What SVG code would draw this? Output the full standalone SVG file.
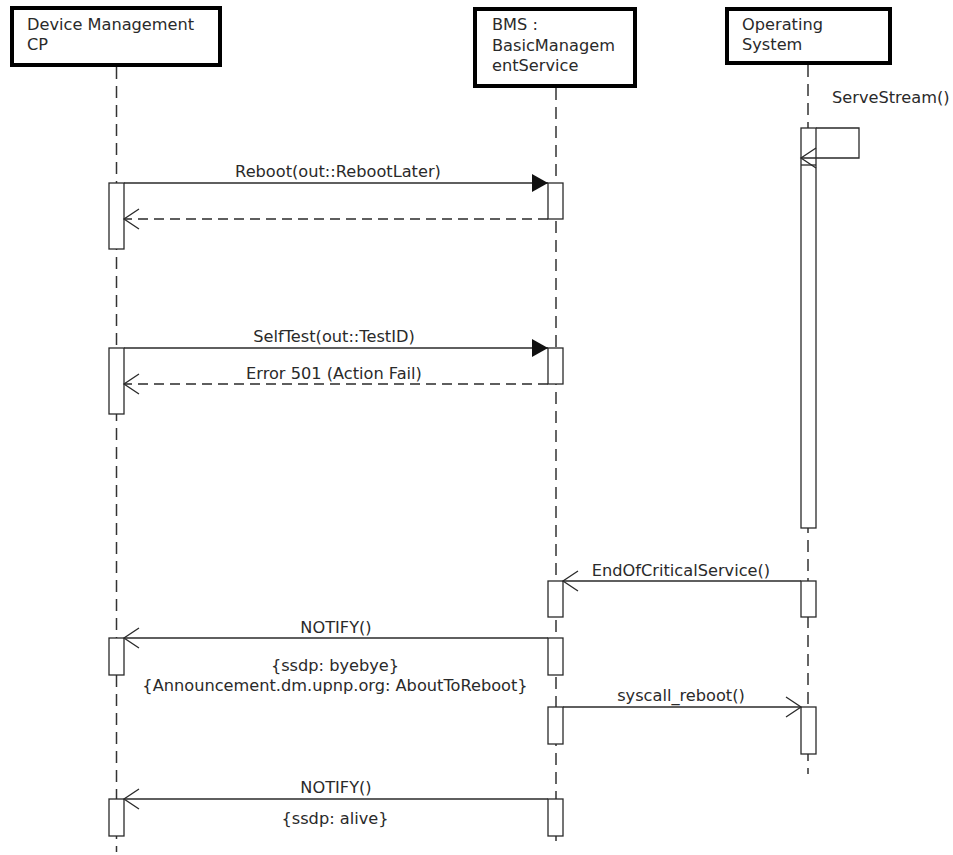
<svg xmlns="http://www.w3.org/2000/svg" width="953" height="855" viewBox="0 0 953 855">
<style>
.hdr{fill:#fff;stroke:#000;stroke-width:4}
.life{stroke:#333;stroke-width:1.5;stroke-dasharray:12,7;fill:none}
.act{fill:#fff;stroke:#2a2a2a;stroke-width:1.3}
.msg{stroke:#2a2a2a;stroke-width:1.3;fill:none}
.ret{stroke:#2a2a2a;stroke-width:1.3;fill:none;stroke-dasharray:10,6}
text{font-family:"DejaVu Sans","Liberation Sans",sans-serif;font-size:16.2px;fill:#2a2a2a}
.c{text-anchor:middle}
</style>
<defs>
<marker id="filled" markerWidth="17" markerHeight="18" refX="16" refY="9" orient="auto" markerUnits="userSpaceOnUse"><path d="M0,0 L16,9 L0,18 z" fill="#111"/></marker>
<marker id="open" markerWidth="18" markerHeight="22" refX="16" refY="11" orient="auto" markerUnits="userSpaceOnUse"><path d="M1,1 L16,11 L1,21" fill="none" stroke="#2a2a2a" stroke-width="1.3"/></marker>
</defs>
<g id="lifelines">
<line class="life" x1="116.5" y1="67" x2="116.5" y2="852"/>
<line class="life" x1="556" y1="88" x2="556" y2="846"/>
<line class="life" x1="808" y1="65" x2="808" y2="774"/>
</g>
<g id="node-dmcp">
<rect class="hdr" x="12" y="8" width="208" height="57"/>
<text x="27" y="30">Device Management</text>
<text x="27" y="50">CP</text>
</g>
<g id="node-bms">
<rect class="hdr" x="475" y="9" width="160" height="77"/>
<text x="492" y="30">BMS :</text>
<text x="492" y="51">BasicManagem</text>
<text x="492" y="71">entService</text>
</g>
<g id="node-os">
<rect class="hdr" x="727" y="9" width="163" height="54"/>
<text x="742" y="30">Operating</text>
<text x="742" y="50">System</text>
</g>
<g id="activations">
<rect class="act" x="109" y="183" width="15" height="66"/>
<rect class="act" x="548" y="183" width="15" height="36"/>
<rect class="act" x="109" y="348" width="15" height="66"/>
<rect class="act" x="548" y="348" width="15" height="36"/>
<rect class="act" x="801" y="128" width="15" height="400"/>
<line class="msg" x1="801" y1="165" x2="816" y2="165"/>
<rect class="act" x="548" y="581" width="15" height="36"/>
<rect class="act" x="801" y="581" width="15" height="36"/>
<rect class="act" x="109" y="638" width="15" height="37"/>
<rect class="act" x="548" y="638" width="15" height="37"/>
<rect class="act" x="548" y="707" width="15" height="37"/>
<rect class="act" x="801" y="707" width="15" height="47"/>
<rect class="act" x="109" y="799" width="15" height="37"/>
<rect class="act" x="548" y="799" width="15" height="37"/>
</g>
<g id="connectors">
<path class="msg" d="M816,128 H859 V158 H801" marker-end="url(#open)"/>
<line class="msg" x1="124" y1="183" x2="548" y2="183" marker-end="url(#filled)"/>
<line class="ret" x1="548" y1="219" x2="124" y2="219" marker-end="url(#open)"/>
<line class="msg" x1="124" y1="348" x2="548" y2="348" marker-end="url(#filled)"/>
<line class="ret" x1="548" y1="384" x2="124" y2="384" marker-end="url(#open)"/>
<line class="msg" x1="801" y1="581" x2="563" y2="581" marker-end="url(#open)"/>
<line class="msg" x1="548" y1="638" x2="124" y2="638" marker-end="url(#open)"/>
<line class="msg" x1="563" y1="707" x2="801" y2="707" marker-end="url(#open)"/>
<line class="msg" x1="548" y1="799" x2="124" y2="799" marker-end="url(#open)"/>
</g>
<g id="labels">
<text x="832" y="103">ServeStream()</text>
<text class="c" x="338" y="177">Reboot(out::RebootLater)</text>
<text class="c" x="334" y="342">SelfTest(out::TestID)</text>
<text class="c" x="334" y="379">Error 501 (Action Fail)</text>
<text class="c" x="681" y="576">EndOfCriticalService()</text>
<text class="c" x="336" y="633">NOTIFY()</text>
<text class="c" x="335" y="671">{ssdp: byebye}</text>
<text class="c" x="335" y="691">{Announcement.dm.upnp.org: AboutToReboot}</text>
<text class="c" x="681" y="701">syscall_reboot()</text>
<text class="c" x="336" y="793">NOTIFY()</text>
<text class="c" x="335" y="824">{ssdp: alive}</text>
</g>
</svg>
